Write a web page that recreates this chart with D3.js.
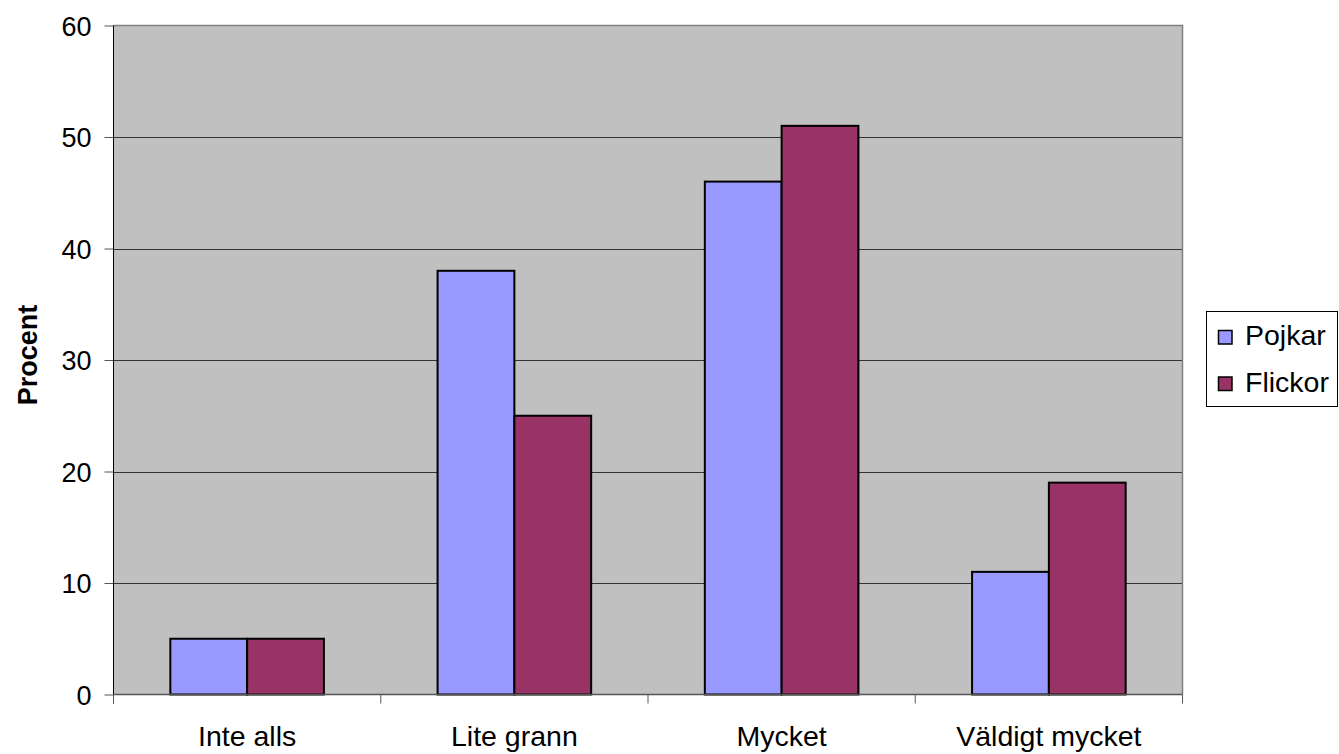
<!DOCTYPE html>
<html><head><meta charset="utf-8">
<script src="https://cdn.jsdelivr.net/npm/d3@7"></script>
<style>body{margin:0;background:#fff}svg{display:block}text{font-family:"Liberation Sans",Arial,sans-serif}</style>
</head><body><svg id="c" width="1339" height="754"></svg>
<script>
const categories = ["Inte alls","Lite grann","Mycket","Väldigt mycket"];
const seriesNames = ["Pojkar","Flickor"];
const pojkar = [5,38,46,11];
const flickor = [5,25,51,19];
const yTicks = [0,10,20,30,40,50,60];
const colors = ["#9999ff","#993366"];
const values = [pojkar, flickor];

const svg = d3.select("#c");
const L=113.5, R=1182.5, T=25.5, B=694.5;
const y = d3.scaleLinear().domain([0,60]).range([B,T]);
const x0 = d3.scaleBand().domain(categories).range([L,R]).padding(0);
const x1 = d3.scaleBand().domain(seriesNames).range([0,x0.bandwidth()]).paddingInner(0).paddingOuter(0.74);

svg.append("rect").attr("x",L).attr("y",T).attr("width",R-L).attr("height",B-T).attr("fill","#c0c0c0");
// grid
svg.append("g").selectAll("line").data(yTicks.filter(d=>d>0&&d<60)).join("line")
  .attr("x1",L).attr("x2",R).attr("y1",d=>Math.round(y(d))+0.5).attr("y2",d=>Math.round(y(d))+0.5)
  .attr("stroke","#333").attr("stroke-width",1);
// top/right border
svg.append("path").attr("d",`M${L},${T}H${R}V${B}`).attr("fill","none").attr("stroke","#808080").attr("stroke-width",1.5);

// bars
const g = svg.append("g");
categories.forEach((c,i)=>{
  seriesNames.forEach((s,j)=>{
    const v = values[j][i];
    g.append("rect").attr("x",x0(c)+x1(s)).attr("y",y(v)).attr("width",x1.bandwidth()).attr("height",y(0)-y(v))
      .attr("fill",colors[j]).attr("stroke","#000").attr("stroke-width",2);
  });
});

// y axis
const ya = svg.append("g").attr("transform",`translate(${L},0)`)
  .call(d3.axisLeft(y).tickValues(yTicks).tickSize(9).tickPadding(13));
ya.select(".domain").remove();
ya.append("line").attr("x1",0).attr("x2",0).attr("y1",T).attr("y2",B+9).attr("stroke","#000").attr("stroke-width",1);
ya.selectAll(".tick line").attr("stroke","#555");
ya.selectAll(".tick text").attr("font-size",27).attr("fill","#000").attr("font-family","Liberation Sans, Arial, sans-serif").attr("dy","0.36em");

// x axis
const xa = svg.append("g").attr("transform",`translate(0,${B})`);
xa.append("line").attr("x1",L).attr("x2",R).attr("stroke","#555").attr("stroke-width",1.5);
xa.selectAll(".t").data(categories.map((c)=>x0(c)).concat([R])).join("line")
  .attr("x1",d=>d).attr("x2",d=>d).attr("y1",0).attr("y2",9).attr("stroke","#555");
xa.selectAll("text").data(categories).join("text")
  .attr("x",d=>x0(d)+x0.bandwidth()/2).attr("y",51).attr("text-anchor","middle")
  .attr("font-size",28.5).attr("fill","#000").text(d=>d);

// y label
svg.append("text").attr("transform","translate(37,355) rotate(-90)").attr("text-anchor","middle")
  .attr("font-size",27).attr("font-weight","bold").text("Procent");

// legend
const lg = svg.append("g");
lg.append("rect").attr("x",1206.5).attr("y",311.5).attr("width",131).attr("height",95).attr("fill","#fff").attr("stroke","#000");
seriesNames.forEach((s,j)=>{
  const base = 345 + j*46.5;
  lg.append("rect").attr("x",1218.5).attr("y",base-14.5).attr("width",13.5).attr("height",13.5).attr("fill",colors[j]).attr("stroke","#000").attr("stroke-width",1.5);
  lg.append("text").attr("x",1245).attr("y",base).attr("font-size",28.5).text(s);
});
</script></body></html>
